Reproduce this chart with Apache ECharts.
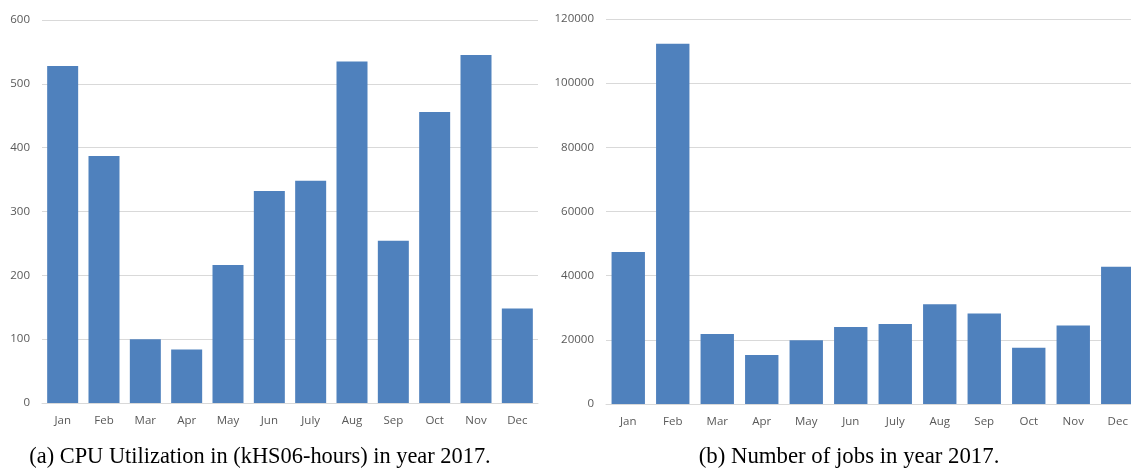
<!DOCTYPE html>
<html>
<head>
<meta charset="utf-8">
<script src="https://cdn.jsdelivr.net/npm/echarts@6/dist/echarts.min.js"></script>
<style>
html,body{margin:0;padding:0;background:#fff;overflow:hidden;}
#c{width:1145px;height:470px;}
</style>
</head>
<body>
<div id="c"></div>
<script>
var months = ['Jan','Feb','Mar','Apr','May','Jun','July','Aug','Sep','Oct','Nov','Dec'];
var cpuValues = [528, 387, 100, 84, 216, 332, 348, 535, 254, 456, 545, 148];
var jobValues = [47400, 112300, 21800, 15300, 19900, 24000, 24900, 31100, 28200, 17500, 24500, 42800];
var cpuTicks = {min: 0, max: 600, interval: 100};
var jobTicks = {min: 0, max: 120000, interval: 20000};
var captionA = '(a) CPU Utilization in (kHS06-hours) in year 2017.';
var captionB = '(b) Number of jobs in year 2017.';

var labelFont = {color: '#595959', fontSize: 11.5, fontFamily: 'Open Sans'};
var barColor = '#4F81BD';

function xAxis(gridIndex) {
  return {
    type: 'category', gridIndex: gridIndex, data: months,
    axisLine: {lineStyle: {color: '#d9d9d9', width: 1}},
    axisTick: {show: false},
    axisLabel: Object.assign({margin: 12, interval: 0}, labelFont)
  };
}
function yAxis(gridIndex, t) {
  return {
    type: 'value', gridIndex: gridIndex, min: t.min, max: t.max, interval: t.interval,
    axisLine: {show: false}, axisTick: {show: false},
    splitLine: {lineStyle: {color: '#d9d9d9', width: 1}},
    axisLabel: Object.assign({margin: 12, formatter: function (v) { return String(v); }}, labelFont)
  };
}

var chart = echarts.init(document.getElementById('c'), null, {renderer: 'canvas'});
chart.setOption({
  animation: false,
  title: [
    {text: captionA, left: 255, textAlign: 'center', top: 441,
     textStyle: {fontFamily: 'Liberation Serif', fontSize: 22.4, fontWeight: 'normal', color: '#000'}},
    {text: captionB, left: 844, textAlign: 'center', top: 441,
     textStyle: {fontFamily: 'Liberation Serif', fontSize: 22.8, fontWeight: 'normal', color: '#000'}}
  ],
  grid: [
    {left: 42, top: 20, width: 496, height: 383},
    {left: 606, top: 19, width: 534, height: 385}
  ],
  xAxis: [xAxis(0), xAxis(1)],
  yAxis: [yAxis(0, cpuTicks), yAxis(1, jobTicks)],
  series: [
    {type: 'bar', xAxisIndex: 0, yAxisIndex: 0, data: cpuValues, barCategoryGap: '25%',
     itemStyle: {color: barColor}},
    {type: 'bar', xAxisIndex: 1, yAxisIndex: 1, data: jobValues, barCategoryGap: '25%',
     itemStyle: {color: barColor}}
  ]
});
</script>
</body>
</html>
